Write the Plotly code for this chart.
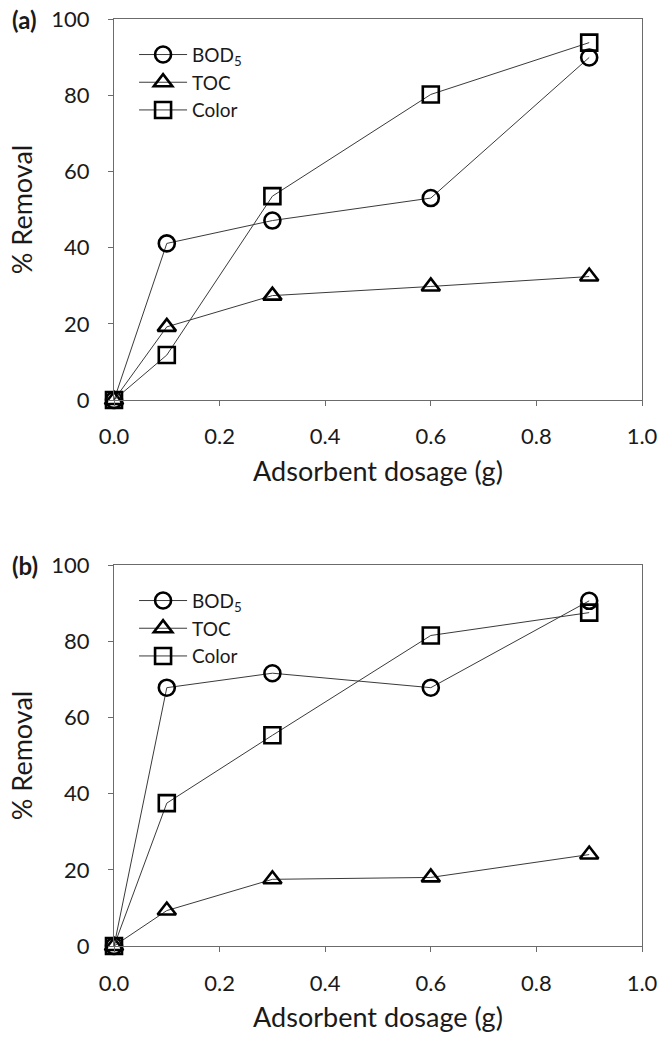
import plotly.graph_objects as go

dosage = [0.0, 0.1, 0.3, 0.6, 0.9]

bod_a = [0, 41.1, 47.1, 53.0, 89.9]
toc_a = [0, 19.2, 27.4, 29.8, 32.4]
color_a = [0, 11.8, 53.5, 80.2, 93.8]

bod_b = [0, 67.8, 71.6, 67.8, 90.6]
toc_b = [0, 9.3, 17.5, 18.0, 24.0]
color_b = [0, 37.5, 55.3, 81.5, 87.5]

series_names = ["BOD<sub>5</sub>", "TOC", "Color"]
symbols = ["circle-open", "triangle-up-open", "square-open"]
x_ticks = [0.0, 0.2, 0.4, 0.6, 0.8, 1.0]
y_ticks = [0, 20, 40, 60, 80, 100]

FONT = "Lato, 'Open Sans', sans-serif"

fig = go.Figure()

panels = [
    ("x", "y", "legend", [bod_a, toc_a, color_a]),
    ("x2", "y2", "legend2", [bod_b, toc_b, color_b]),
]
for xa, ya, lg, data in panels:
    for name, sym, vals in zip(series_names, symbols, data):
        fig.add_trace(go.Scatter(
            x=dosage, y=vals, name=name, mode="lines+markers",
            xaxis=xa, yaxis=ya, legend=lg, cliponaxis=False,
            line=dict(color="#3a3a3a", width=1),
            marker=dict(symbol=sym, size=16, color="black",
                        line=dict(color="black", width=2.6)),
        ))

axis_common = dict(
    showline=True, mirror=True, linecolor="#6b6b6b", linewidth=1.2,
    ticks="outside", ticklen=5, tickcolor="#6b6b6b", tickwidth=1.2,
    showgrid=False, zeroline=False, automargin=False,
    tickfont=dict(family=FONT, size=22, color="#1a1a1a"),
)

xaxis_cfg = dict(axis_common, range=[0, 1.0], tickvals=x_ticks, tickformat=".1f",
                 ticklabelstandoff=12,
                 title=dict(text="Adsorbent dosage (g)",
                            font=dict(family=FONT, size=27, color="#1a1a1a"),
                            standoff=13))
yaxis_cfg = dict(axis_common, range=[0, 100], tickvals=y_ticks,
                 ticklabelstandoff=14,
                 title=dict(text="% Removal",
                            font=dict(family=FONT, size=27, color="#1a1a1a"),
                            standoff=10))

legend_cfg = dict(
    font=dict(family=FONT, size=19, color="#1a1a1a"),
    bgcolor="rgba(0,0,0,0)", borderwidth=0,
    xref="paper", yref="paper", xanchor="left", yanchor="top",
    itemwidth=48, tracegroupgap=0, traceorder="normal",
)

fig.update_layout(
    width=660, height=1046,
    margin=dict(l=114, r=18, t=19, b=100, autoexpand=False),
    paper_bgcolor="white", plot_bgcolor="white",
    showlegend=True,
    xaxis=dict(xaxis_cfg, domain=[0, 1], anchor="y"),
    yaxis=dict(yaxis_cfg, domain=[0.589, 1.0], anchor="x"),
    xaxis2=dict(xaxis_cfg, domain=[0, 1], anchor="y2"),
    yaxis2=dict(yaxis_cfg, domain=[0.0, 0.411], anchor="x2"),
    legend=dict(legend_cfg, x=0.038, y=0.982),
    legend2=dict(legend_cfg, x=0.038, y=0.393),
    annotations=[
        dict(text="<b>(a)</b>", xref="paper", yref="paper", x=-0.197, y=1.0,
             xanchor="left", yanchor="middle", showarrow=False,
             font=dict(family=FONT, size=24, color="#1a1a1a")),
        dict(text="<b>(b)</b>", xref="paper", yref="paper", x=-0.197, y=0.411,
             xanchor="left", yanchor="middle", showarrow=False,
             font=dict(family=FONT, size=24, color="#1a1a1a")),
    ],
)

fig.write_html("out.html")
